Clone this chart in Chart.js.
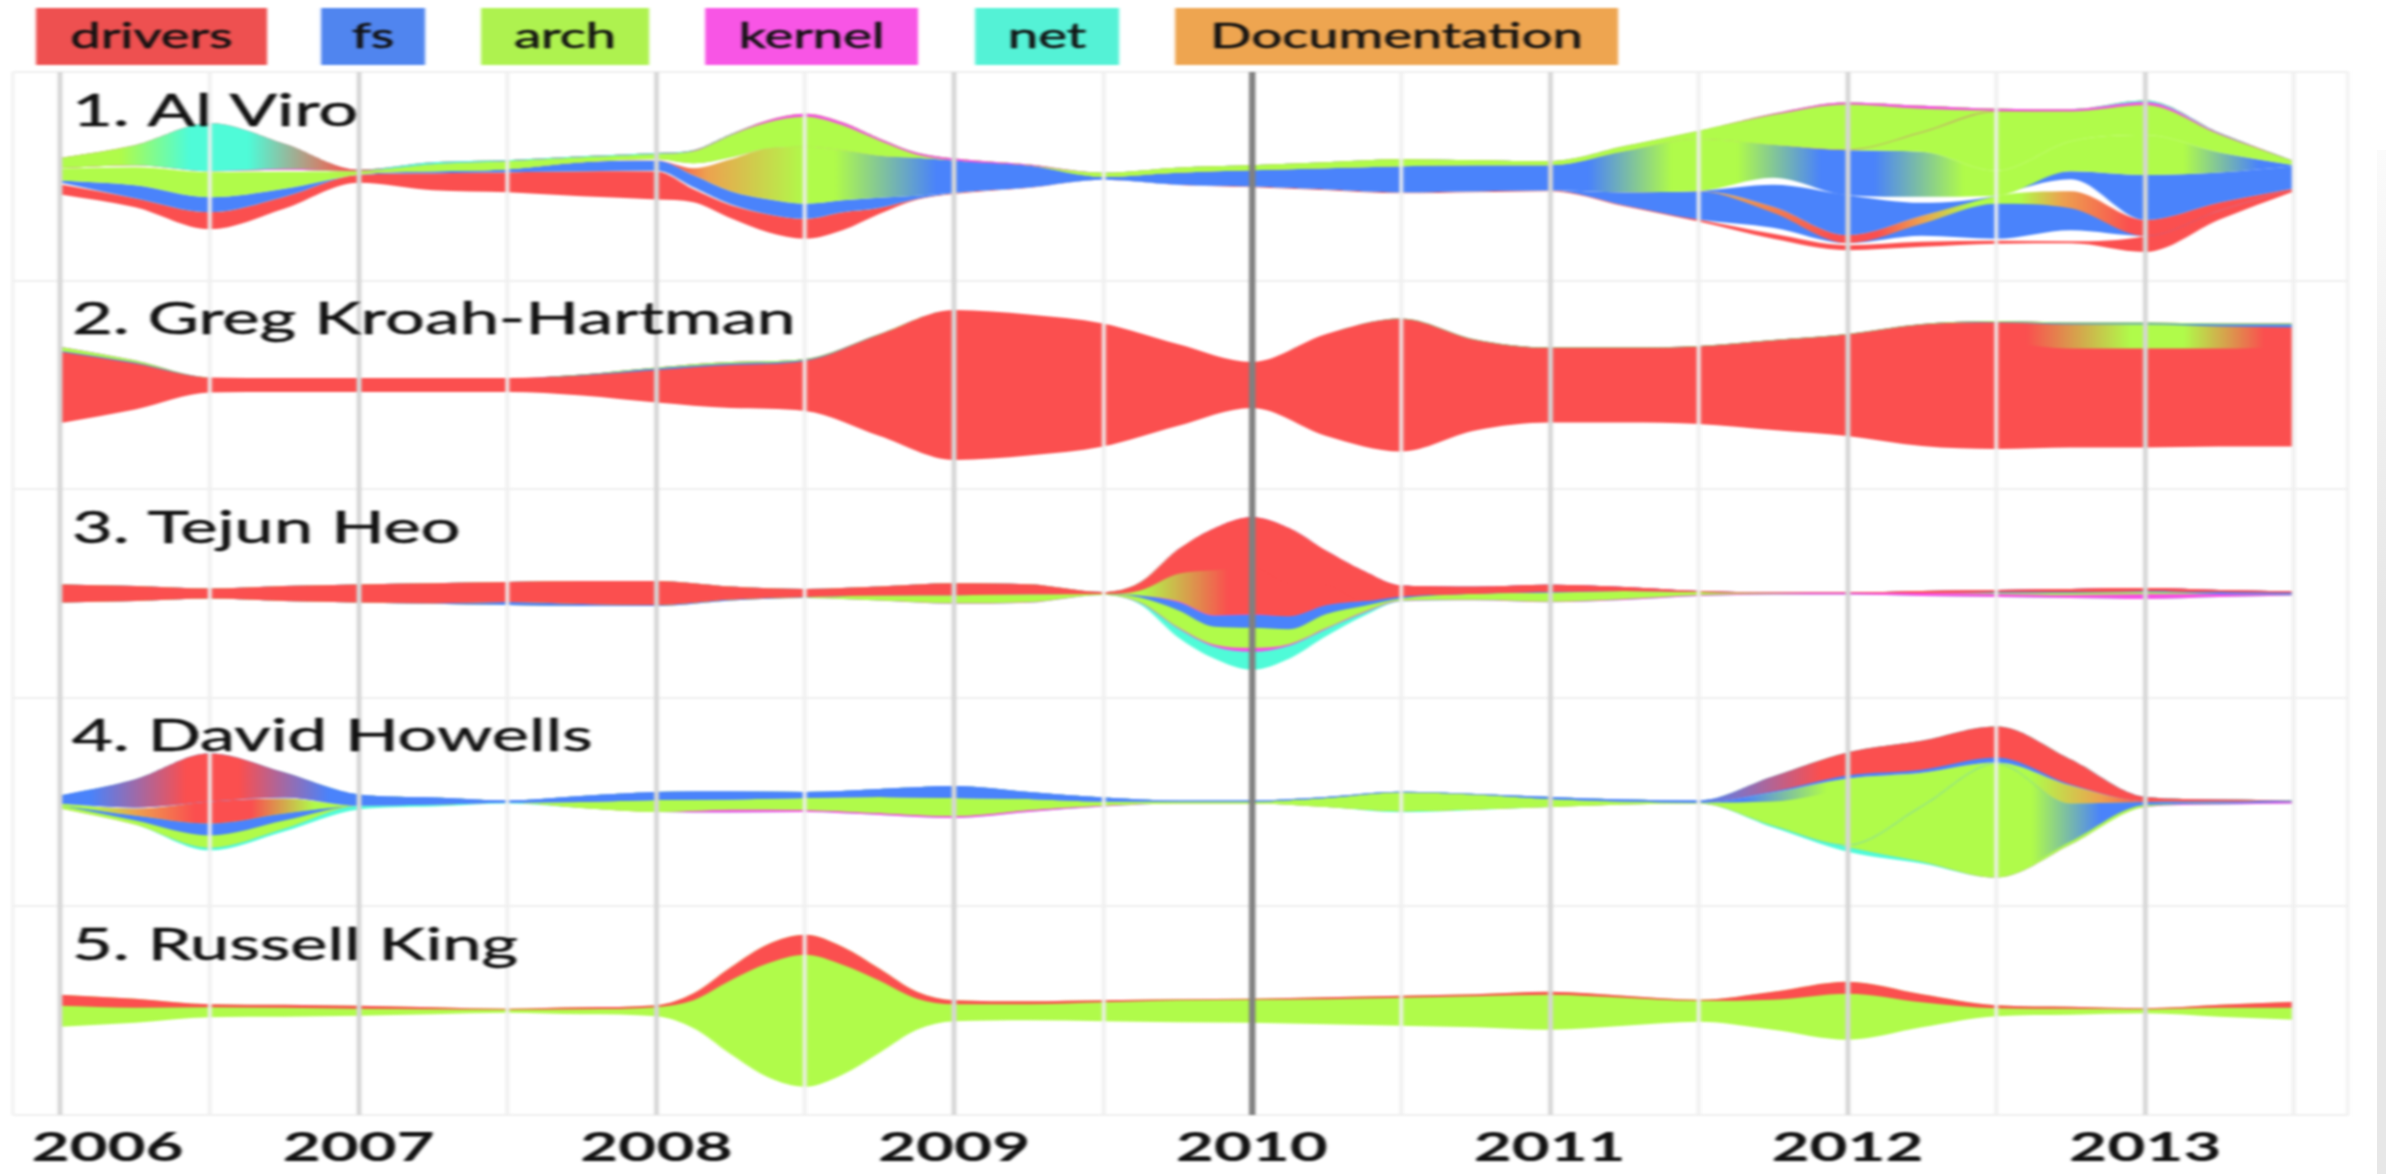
<!DOCTYPE html>
<html>
<head>
<meta charset="utf-8">
<title>Kernel contributors</title>
<script src="https://cdn.jsdelivr.net/npm/chart.js@4/dist/chart.umd.min.js"></script>
<style>
    html, body { margin: 0; padding: 0; width: 2386px; height: 1174px; overflow: hidden; background: #fff; }
    /* the reference is a screenshot pulled wide, so the whole chart gets pulled the same way */
    #stage { position: absolute; left: 0; top: 0; width: 1492px; height: 1174px; transform: scaleX(1.5992); transform-origin: 0 0; }
    #stage canvas { filter: blur(0.9px); }
    #edge { position: absolute; left: 2377px; top: 150px; width: 9px; height: 1024px; background: linear-gradient(#fbfbfb, #e7e7e7 45%, #e7e7e7); }
</style>
</head>
<body>
<div id="stage"><canvas id="chart" width="1492" height="1174"></canvas></div>
<div id="edge"></div>
<script>
// sample positions, every quarter year, with extra samples where a row has a steep hump
const sampleYears = [2006, 2006.25, 2006.5, 2006.75, 2007, 2007.25, 2007.5, 2007.75, 2008, 2008.25, 2008.5, 2008.75, 2009, 2009.25, 2009.5, 2009.75, 2010, 2010.25, 2010.5, 2010.75, 2011, 2011.25, 2011.5, 2011.75, 2012, 2012.25, 2012.5, 2012.75, 2013, 2013.25, 2013.5];
const humpYears2008 = [2006, 2006.25, 2006.5, 2006.75, 2007, 2007.25, 2007.5, 2007.75, 2008, 2008.125, 2008.25, 2008.375, 2008.5, 2008.625, 2008.75, 2008.875, 2009, 2009.25, 2009.5, 2009.75, 2010, 2010.25, 2010.5, 2010.75, 2011, 2011.25, 2011.5, 2011.75, 2012, 2012.25, 2012.5, 2012.75, 2013, 2013.25, 2013.5];
const humpYears2010 = [2006, 2006.25, 2006.5, 2006.75, 2007, 2007.25, 2007.5, 2007.75, 2008, 2008.25, 2008.5, 2008.75, 2009, 2009.25, 2009.5, 2009.625, 2009.75, 2009.875, 2010, 2010.125, 2010.25, 2010.375, 2010.5, 2010.75, 2011, 2011.25, 2011.5, 2011.75, 2012, 2012.25, 2012.5, 2012.75, 2013, 2013.25, 2013.5];

const gridYears = [2006, 2006.5, 2007, 2007.5, 2008, 2008.5, 2009, 2009.5, 2010, 2010.5, 2011, 2011.5, 2012, 2012.5, 2013, 2013.5];
const yearLabels = ['2006', '2007', '2008', '2009', '2010', '2011', '2012', '2013'];
const yearLabelAt = [2006.157, 2007, 2008, 2009, 2010, 2011, 2012, 2013];

const authors = ['1. Al Viro', '2. Greg Kroah-Hartman', '3. Tejun Heo', '4. David Howells', '5. Russell King'];
const legendNames = ['drivers', 'fs', 'arch', 'kernel', 'net', 'Documentation'];
const legendColors = ['#ee5050', '#5085ef', '#aef24f', '#f855e5', '#54f2d6', '#eea550'];

const RED = '#fb4f4f', BLUE = '#4a83fb', GREEN = '#b0fb4a', PINK = '#f84fe6', TEAL = '#4ffbd8', ORANGE = '#eda24f', WHITE = '#ffffff';

// 1. Al Viro, band thickness top to bottom (humpYears2008)
const viroNet = [10, 20, 48, 25, 1, 2, 1, 1, 1, 0.5, 0.5, 0, 0, 0, 0, 0, 0, 0, 0, 0, 0, 0, 0, 0, 0, 0, 0, 0, 0, 0, 0, 0, 1.5, 0.5, 0];
const viroKernel = [0, 0, 0, 1, 0, 0, 0, 0, 0, 0.5, 0.5, 2, 3, 3, 2, 2, 2, 1, 0, 0, 0, 0, 0, 0, 0, 0, 0, 1, 2, 3, 2, 2, 3, 1, 0];
const viroArchTop = [0, 0, 0, 0, 1, 7, 8, 5, 5, 12, 22, 26, 30, 25, 15, 3, 0, 0, 4, 5, 5, 6, 7, 5, 4, 5, 8, 30, 45, 23, 0, 0, 0, 0, 0];
const viroThread = [0, 0, 0, 0, 0, 0, 0, 0, 0, 0, 0, 0, 0, 0, 0, 0, 0, 0, 0, 0, 0, 0, 0, 0, 0, 0, 0, 0, 0.8, 1, 1, 0, 0, 0, 0];
const viroArchLow = [0, 0, 0, 0, 0, 0, 0, 0, 0, 0, 0, 0, 0, 0, 0, 0, 0, 0, 0, 0, 0, 0, 0, 0, 0, 0, 0, 0, 0, 19, 59, 30, 30, 18, 4];
const viroGapA = [0.5, 2, 1, 2, 0, 0, 0, 0, 1.5, 5, 2, 0, 0, 0, 0, 0, 0, 0, 0, 0, 0, 0, 0, 0, 0, 0, 0, 0, 0, 0, 0, 0, 0, 0, 0];
const viroMid = [12, 18, 25, 17, 3, 0, 0, 0, 0, 7, 32, 51, 57, 50, 42, 38, 32, 22, 3, 12, 16, 21, 26, 26, 25, 41, 52, 33, 45, 45, 25, 30, 40, 20, 1];
const viroGapB = [0, 0, 0, 0, 0, 0, 0, 0, 0, 0, 0, 0, 0, 0, 0, 0, 0, 0, 0, 0, 0, 0, 0, 0, 0, 0, 0, 7, 0, 6, 0, 0, 0, 0, 0];
const viroFsA = [2, 13, 15, 8, 0, 2, 3, 9, 10, 12, 13, 15, 15, 12, 10, 3, 0.5, 0, 0, 0, 0, 0, 0, 0, 0, 0, 0, 22, 40, 13, 0, 8, 45, 30, 22];
const viroGapD = [0, 0, 0, 0, 0, 0, 0, 0, 0, 0, 0, 0, 0, 0, 0, 0, 0, 0, 0, 0, 0, 0, 0, 0, 0, 0, 0, 0, 0, 0, 0, 12, 0, 0, 0];
const viroMoved = [0, 0, 0, 0, 0, 0, 0, 0, 0, 0, 0, 0, 0, 0, 0, 0, 0, 0, 0, 0, 0, 0, 0, 0, 0, 0, 0.5, 6, 8, 8, 8, 17, 16, 8, 0];
const viroFsB = [0, 0, 0, 0, 0, 0, 0, 0, 0, 0, 0, 0, 0, 0, 0, 0, 0, 0, 0, 0, 0, 0, 0, 0, 0, 13, 28, 15, 0, 12, 35, 22, 0, 0, 0];
const viroGapC = [2, 0, 0, 0, 0, 0, 0, 0, 1, 2, 1, 0, 0, 0, 0, 0, 0, 0, 0, 0, 0, 0, 0, 0, 0, 0, 0, 6, 2, 6, 2, 11, 0, 0, 0];
const viroDrivers = [10, 9, 17, 12, 8, 17, 20, 25, 28, 13, 13, 18, 20, 18, 6, 1, 1, 0.5, 0, 0.3, 1, 1, 1, 1, 1, 1, 2, 5, 5, 5, 3, 2, 16, 9, 3];

const viroNetStops = [[2006.2, GREEN], [2006.43, TEAL], [2006.63, TEAL], [2006.88, '#d2806a'], [2006.97, RED], [2007.1, TEAL]];
const viroMidStops = [[2006.9, GREEN], [2008.05, RED], [2008.17, ORANGE], [2008.5, GREEN], [2008.6, GREEN], [2008.94, BLUE], [2011.13, BLUE], [2011.41, GREEN], [2011.63, GREEN], [2011.91, BLUE], [2012.09, BLUE], [2012.39, GREEN], [2013.13, GREEN], [2013.38, BLUE]];
const viroMovedStops = [[2011.6, ORANGE], [2011.95, RED], [2012.1, RED], [2012.25, ORANGE], [2012.42, GREEN], [2012.58, GREEN], [2012.72, ORANGE], [2012.95, RED]];

// 2. Greg Kroah-Hartman (sampleYears)
const gregArch = [4, 2, 0, 0, 0, 0, 0, 0.5, 1, 1.5, 1, 0.5, 0, 0, 0, 0, 0, 0, 0.5, 0.5, 0.5, 0.5, 0.5, 0.5, 0.5, 0.5, 1, 1, 1, 1, 1];
const gregFs = [1, 1, 0, 0, 0, 0, 0, 0.5, 1.5, 1.5, 1, 0, 0, 0, 0, 0, 0, 0, 0, 0, 0, 0, 0, 0, 0, 0, 0.5, 1, 1, 2, 3];
const gregMoved = [0, 0, 0, 0, 0, 0, 0, 0, 0, 0, 0, 0, 0, 0, 0, 0, 0, 0, 0, 0, 0, 0, 0, 0, 0, 5, 18, 24, 24, 22, 20];
const gregDrivers = [71, 46, 15, 14, 14, 14, 14, 20, 32.5, 43, 50, 101.5, 150, 141, 123, 82, 46, 102, 132.5, 90.5, 74.5, 74.5, 77.5, 89.5, 101.5, 116.5, 108.5, 99, 99, 98, 99];
const gregMovedStops = [[2012.6, RED], [2012.95, GREEN], [2013.13, GREEN], [2013.4, RED]];

// 3. Tejun Heo (humpYears2010)
const tejunDrivers = [18, 15, 10, 15, 18, 20, 20, 23, 24, 13, 8, 9, 12, 10, 2, 8, 24, 42, 50, 55, 34, 30, 11, 7, 7, 4, 1, 0.5, 0.5, 2, 2, 3, 3, 2, 1];
const tejunMoved = [0, 0, 0, 0, 0, 0, 0, 0, 0, 0, 0, 0, 0, 0, 0, 5, 27, 45, 47, 33, 20, 0, 0, 0, 0, 0, 0, 0, 0, 0, 0, 0, 0, 0, 0];
const tejunKernelA = [0, 0, 0, 0, 0, 0, 0, 0, 0, 0, 0, 0, 0, 0, 0, 0, 1, 0.7, 0.7, 0, 0, 0, 0, 0, 0, 0, 0, 0, 0, 0, 0, 0, 0, 0, 0];
const tejunFs = [0, 0, 0, 0, 0, 0.5, 3, 2, 1, 1, 0.5, 0, 0, 0, 0, 2, 8, 11, 13, 13, 9, 5, 2, 0, 1, 0, 0, 0, 0, 0, 1, 1, 1, 2, 2];
const tejunArch = [0, 0, 0, 0, 0, 0, 0, 0, 0, 0, 0.5, 5, 8, 8, 1, 5, 17, 18, 20, 15, 14, 6, 2, 6, 9, 8, 3, 0.5, 0, 0, 1, 2, 2, 0, 0];
const tejunKernelB = [0, 0, 0, 0, 0, 0, 0, 0, 0, 0, 0, 0, 0.5, 0.5, 0, 0.5, 1, 2, 4, 1.5, 1, 1, 0.5, 0.5, 0.5, 1, 1, 1, 1.5, 3, 3, 3, 5, 3, 1];
const tejunNet = [0, 0, 0, 0, 0, 0, 0, 0, 0, 0, 0, 0, 0, 0, 0, 1.5, 9, 12, 18, 13, 7, 3, 0.5, 0, 0, 0, 0, 0, 0, 0, 0, 0, 0, 0, 0];
const tejunMovedStops = [[2009.63, GREEN], [2009.92, RED]];

// 4. David Howells (sampleYears)
const howellsTop = [8, 28, 48, 25, 11, 7, 2, 6, 8, 8, 6, 8, 12, 7, 4, 1, 1, 1, 0.5, 0.5, 2, 2, 2, 15, 23, 29, 31, 25, 4, 2, 0];
const howellsFsThin = [0, 0, 0, 0, 0, 0, 0, 0, 0, 0, 0, 0, 0, 0, 0, 0, 0, 0, 0, 0, 0, 0, 0, 1, 3, 3, 5, 1, 0, 0, 0];
const howellsGap = [0, 1, 0, 1, 0, 0, 0, 0, 0, 0, 0, 0, 0, 0, 0, 0, 0, 0, 0, 0, 0, 0, 0, 0, 0, 0, 0, 0, 0, 0, 0];
const howellsWedge = [0, 0, 0, 0, 0, 0, 0, 0, 0, 0, 0, 0, 0, 0, 0, 0, 0, 0, 0, 0, 0, 0, 0, 9, 10, 0, 0, 0, 0, 0, 0];
const howellsMoved = [2, 7, 22, 15, 0, 0, 0, 0, 0, 0, 0, 0, 0, 0, 0, 0, 0, 0, 0, 0, 0, 0, 0, 24, 56, 33, 0.5, 18, 1, 0, 0];
const howellsThread = [0, 0, 0, 0, 0, 0, 0, 0, 0, 0, 0, 0, 0, 0, 0, 0, 0, 0, 0, 0, 0, 0, 0, 0, 0.7, 0.7, 0.7, 0, 0, 0, 0];
const howellsFs = [0, 5, 12, 7, 0, 0, 0, 0, 0, 0, 0, 0, 0, 0, 0, 0, 0, 0, 0, 0, 0, 0, 0, 0, 0, 0, 0, 0, 0, 0, 0];
const howellsArch = [3, 4, 12, 8, 0, 0, 0, 6, 12, 10, 12, 16, 18, 11, 4, 2, 2, 9, 19, 15, 8, 3, 1, 0, 1.5, 55, 113, 38, 3, 2, 1];
const howellsArchLow = [0, 0, 0, 0, 0, 0, 0, 0, 0, 0, 0, 0, 0, 0, 0, 0, 0, 0, 0, 0, 0, 0, 0, 0, 0, 0, 1, 3, 2, 0, 0];
const howellsKernel = [0, 0, 0, 0, 0, 0, 0, 0, 0, 3, 2, 2, 2, 2, 1, 0, 0, 0, 0, 0, 0, 0, 0, 0, 0, 0, 0, 0, 0, 1, 2];
const howellsNet = [0, 0, 3, 3, 4, 2, 1, 0, 0, 0, 0, 0, 0, 0, 0, 0, 0, 0, 1, 0.5, 0, 0, 0, 2, 5, 2, 0, 0, 0, 0, 0];
const howellsTopStops = [[2006.1, BLUE], [2006.42, RED], [2006.6, RED], [2006.9, BLUE], [2011.5, BLUE], [2011.91, RED]];
const howellsWedgeStops = [[2011.65, BLUE], [2011.93, GREEN]];
const howellsMovedStops = [[2006.1, GREEN], [2006.25, ORANGE], [2006.45, RED], [2006.64, RED], [2006.85, GREEN], [2012.62, GREEN], [2012.85, ORANGE], [2013, RED]];
const howellsArchStops = [[2012.62, GREEN], [2012.85, BLUE], [2013, BLUE]];

// 5. Russell King (humpYears2008)
const kingDrivers = [11, 9, 3, 3, 3, 2, 1, 2, 2, 7, 13, 19, 20, 18, 12, 7, 4, 3, 2, 1, 1, 2, 2, 2, 3, 2, 1, 8, 12, 8, 3, 2, 1, 3, 6];
const kingArch = [21, 15, 10, 9, 7, 5, 3, 5, 9, 28, 74, 114, 132, 110, 72, 31, 17, 16, 19, 22, 23, 25, 28, 31, 35, 28, 21, 30, 46, 25, 8, 6, 4, 9, 12];

function band(values, color) { return { values, color }; }

const rowYears = [humpYears2008, sampleYears, humpYears2010, sampleYears, humpYears2008];
const rowBands = [
    [band(viroNet, viroNetStops), band(viroKernel, PINK), band(viroArchTop, GREEN), band(viroThread, '#c9a070'), band(viroArchLow, GREEN), band(viroGapA, WHITE), band(viroMid, viroMidStops), band(viroGapB, WHITE), band(viroFsA, BLUE), band(viroGapD, WHITE), band(viroMoved, viroMovedStops), band(viroFsB, BLUE), band(viroGapC, WHITE), band(viroDrivers, RED)],
    [band(gregArch, GREEN), band(gregFs, BLUE), band(gregMoved, gregMovedStops), band(gregDrivers, RED)],
    [band(tejunDrivers, RED), band(tejunMoved, tejunMovedStops), band(tejunKernelA, PINK), band(tejunFs, BLUE), band(tejunArch, GREEN), band(tejunKernelB, PINK), band(tejunNet, TEAL)],
    [band(howellsTop, howellsTopStops), band(howellsFsThin, BLUE), band(howellsGap, WHITE), band(howellsWedge, howellsWedgeStops), band(howellsMoved, howellsMovedStops), band(howellsThread, '#8fe8a8'), band(howellsFs, BLUE), band(howellsArch, howellsArchStops), band(howellsArchLow, GREEN), band(howellsKernel, PINK), band(howellsNet, TEAL)],
    [band(kingDrivers, RED), band(kingArch, GREEN)]
];

// solid colour, or a left to right gradient from [year, colour] stops
function bandFill(color) {
    if (typeof color === 'string') return () => color;
    return (ctx) => {
        const chart = ctx.chart;
        if (!chart.chartArea) return color[0][1];
        const first = color[0][0];
        const last = color[color.length - 1][0];
        const x = chart.scales.x;
        const g = chart.ctx.createLinearGradient(x.getPixelForValue(first), 0, x.getPixelForValue(last), 0);
        color.forEach(([year, c]) => g.addColorStop((year - first) / (last - first), c));
        return g;
    };
}

// each stream sits centred on its row: boundaries run from +sum/2 down to -sum/2.
// every band fills up to the top edge and the upper bands paint over it, so no seams show
const datasets = [];
rowBands.forEach((bands, row) => {
    const years = rowYears[row];
    const totals = years.map((_, i) => bands.reduce((sum, b) => sum + b.values[i], 0));
    const topIndex = datasets.length;
    const common = { yAxisID: 'y' + row, pointRadius: 0, borderWidth: 0, cubicInterpolationMode: 'monotone' };
    datasets.push({ ...common, data: years.map((x, i) => ({ x, y: totals[i] / 2 })), fill: false });
    const edge = totals.map((t) => t / 2);
    bands.forEach((b) => {
        years.forEach((_, i) => { edge[i] -= b.values[i]; });
        datasets.push({
            ...common,
            data: years.map((x, i) => ({ x, y: edge[i] })),
            fill: { target: topIndex },
            backgroundColor: bandFill(b.color)
        });
    });
});

const STRETCH = 1.5992;

const rowScales = {};
authors.forEach((_, row) => {
    rowScales['y' + row] = {
        type: 'linear',
        position: 'left',
        stack: 'rows',
        stackWeight: 1,
        weight: authors.length - row,
        min: -104.3,
        max: 104.3,
        afterBuildTicks: (axis) => { axis.ticks = [{ value: -104.3 }, { value: 104.3 }]; },
        afterFit: (axis) => { axis.width = 0; },
        ticks: { display: false },
        border: { display: false },
        grid: { color: '#efefef', lineWidth: 2, drawTicks: false }
    };
});

function gridColor(ctx) {
    const v = ctx.tick.value;
    if (v === 2010) return '#808080';
    if (gridYears.includes(v)) return Number.isInteger(v) ? '#d6d6d6' : '#efefef';
    return yearLabelAt.includes(v) ? 'rgba(0,0,0,0)' : '#f0f0f0';
}

function gridWidth(ctx) {
    const v = ctx.tick.value;
    if (v === 2010) return 4;
    if (gridYears.includes(v)) return Number.isInteger(v) ? 3 : 2.4;
    return yearLabelAt.includes(v) ? 0 : 2;
}

const captions = {
    id: 'captions',
    afterDraw(chart) {
        const ctx = chart.ctx;
        ctx.save();
        // row names
        ctx.font = '44px Lato';
        ctx.fillStyle = '#111';
        ctx.strokeStyle = '#111';
        ctx.lineWidth = 0.5;
        ctx.textAlign = 'left';
        ctx.textBaseline = 'alphabetic';
        authors.forEach((name, row) => {
            const y = chart.scales['y' + row].top + 53.5;
            ctx.fillText(name, 72 / STRETCH, y);
            ctx.strokeText(name, 72 / STRETCH, y);
        });
        // legend boxes with the name inside
        const boxLeft = [36, 321, 481, 705, 975, 1175];
        const boxRight = [267, 425, 649, 918, 1119, 1618];
        ctx.font = '34px Lato';
        ctx.textAlign = 'center';
        legendNames.forEach((name, i) => {
            const l = boxLeft[i] / STRETCH;
            const r = boxRight[i] / STRETCH;
            ctx.fillStyle = legendColors[i];
            ctx.fillRect(l, 8, r - l, 57);
            ctx.fillStyle = '#111';
            ctx.fillText(name, (l + r) / 2, 48);
            ctx.strokeText(name, (l + r) / 2, 48);
        });
        ctx.restore();
    }
};

new Chart(document.getElementById('chart'), {
    type: 'line',
    data: { datasets },
    plugins: [captions],
    options: {
        responsive: false,
        animation: false,
        devicePixelRatio: 1,
        layout: { padding: { left: 9 / STRETCH, right: 38 / STRETCH, top: 72, bottom: 0 } },
        plugins: { legend: { display: false }, tooltip: { enabled: false } },
        scales: {
            x: {
                type: 'linear',
                min: 2005.839,
                max: 2013.681,
                afterBuildTicks: (axis) => {
                    const values = [axis.min, ...gridYears, 2006.157, axis.max].sort((a, b) => a - b);
                    axis.ticks = values.map((value) => ({ value }));
                },
                afterFit: (axis) => { axis.height = 59; },
                border: { display: false },
                grid: { color: gridColor, lineWidth: gridWidth, z: 1, tickLength: 0 },
                ticks: {
                    autoSkip: false,
                    maxRotation: 0,
                    padding: 8,
                    color: '#111',
                    font: { family: 'Lato', size: 41, weight: 'bold' },
                    callback: (v) => {
                        const i = yearLabelAt.indexOf(v);
                        return i < 0 ? '' : yearLabels[i];
                    }
                }
            },
            ...rowScales
        }
    }
});
</script>
</body>
</html>
